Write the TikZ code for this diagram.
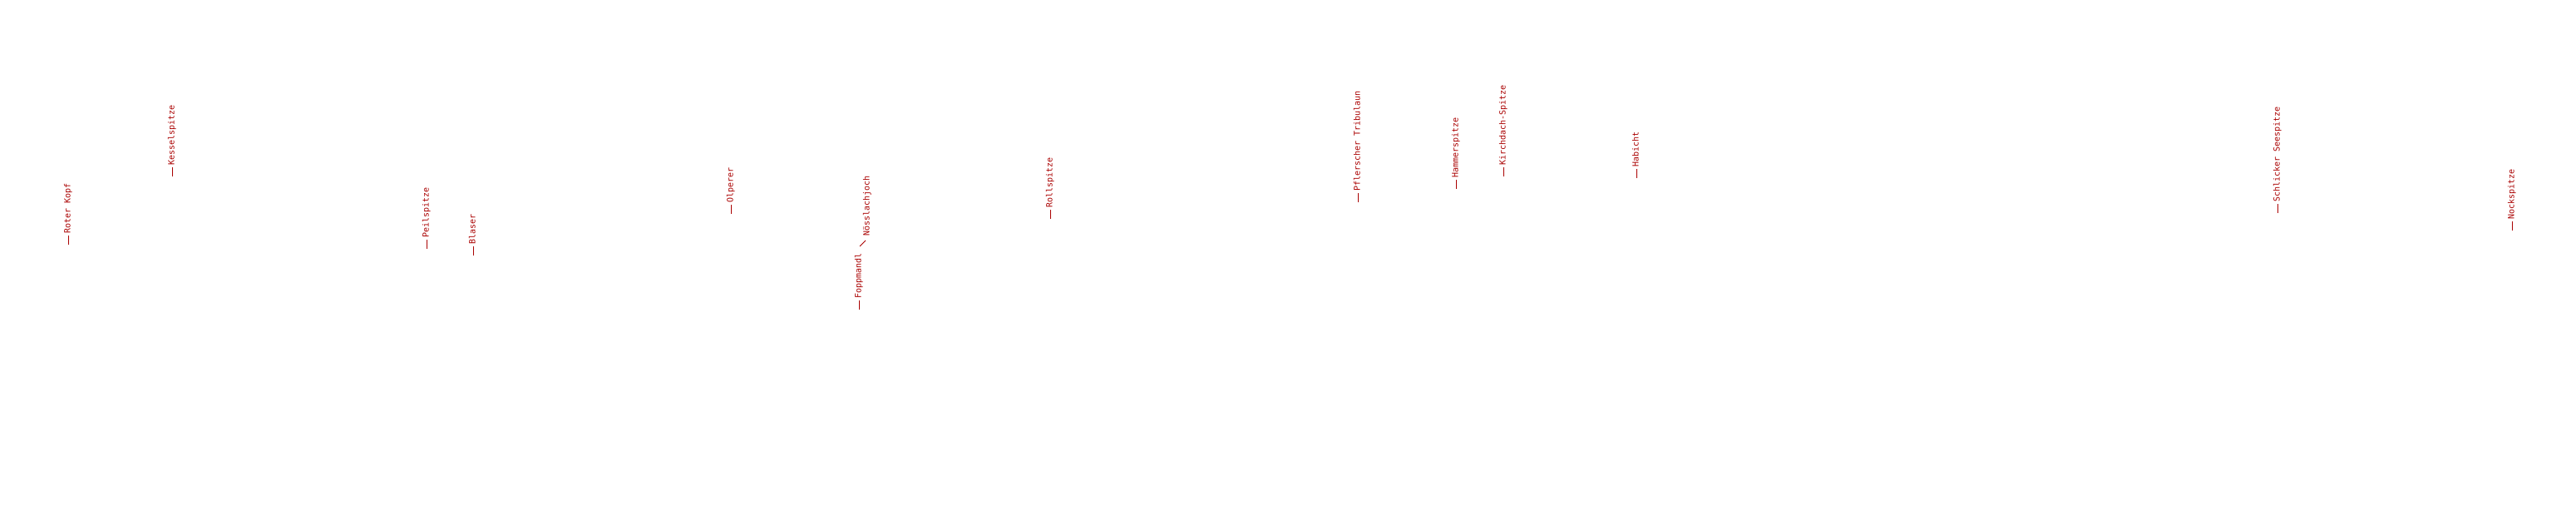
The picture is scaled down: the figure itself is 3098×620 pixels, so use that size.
\documentclass[tikz,border=0pt]{standalone}
\usepackage{fontspec}
\newfontfamily\lblfont{DejaVu Sans Mono}
\definecolor{lblred}{RGB}{170,0,0}
\tikzset{
  lbl/.style={rotate=90,anchor=west,inner sep=0pt,text=lblred,
    font=\lblfont\fontsize{10}{12}\selectfont,text height=0.74em,text depth=0.2em},
  tick/.style={draw=lblred,line width=1pt}
}
\begin{document}
\begin{tikzpicture}[x=1pt,y=-1pt]
\useasboundingbox[fill=white] (0,0) rectangle (3098,620);
\foreach \x/\yb/\name [count=\i] in {
  82/294/{Roter Kopf},
  207/212/{Kesselspitze},
  513/299/{Peilspitze},
  569/307/{Blaser},
  879/257/{Olperer},
  1033/372/{Foppmandl},
  1263/263/{Rollspitze},
  1633/243/{Pflerscher Tribulaun},
  1751/227/{Hammerspitze},
  1808/212/{Kirchdach-Spitze},
  1968/214/{Habicht},
  2739/256/{Schlicker Seespitze},
  3021/277/{Nockspitze}} {
  \coordinate (p\i) at (\x,\yb);
  \node[lbl] (n\i) at (\x,\yb-13) {\name};
  \draw[tick] (p\i) -- ([yshift=-2pt]n\i.west);
}
\coordinate (pn) at (1034,296);
\node[lbl] (nn) at (1043,284) {Nösslachjoch};
\draw[tick,line width=0.8pt] (pn) -- ([shift={(-2pt,-5pt)}]nn.west);
\end{tikzpicture}
\end{document}
